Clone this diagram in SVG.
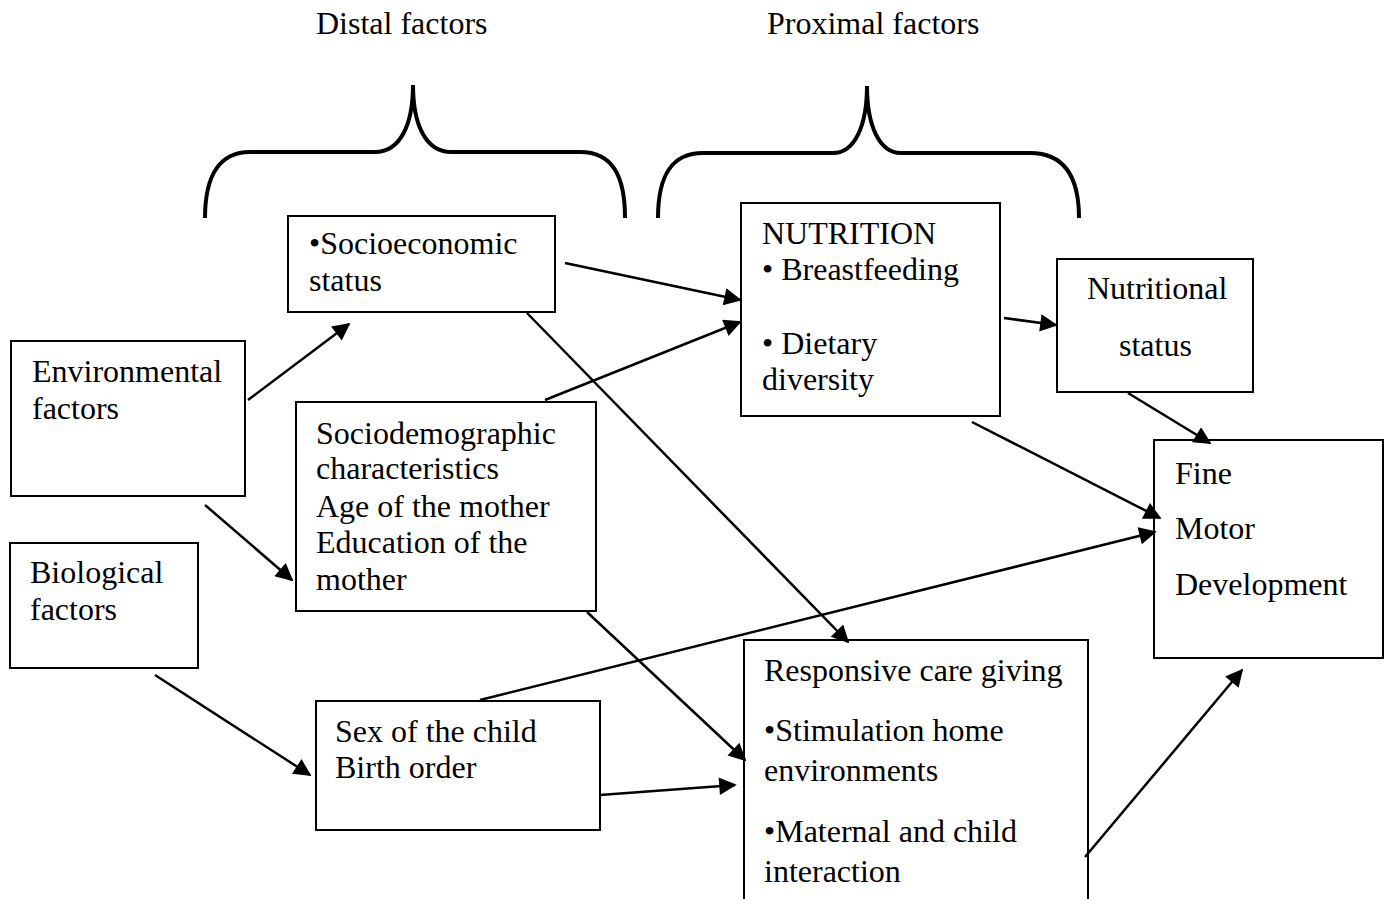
<svg xmlns="http://www.w3.org/2000/svg" width="1388" height="899" viewBox="0 0 1388 899">
<style>
text{font-family:"Liberation Serif","Times New Roman",serif;font-size:32px;fill:#000}
.box{fill:#fff;stroke:#000;stroke-width:2}
.brace{fill:none;stroke:#000;stroke-width:4}
.arr{fill:none;stroke:#000;stroke-width:2.5;marker-end:url(#ah)}
</style>
<defs>
<marker id="ah" viewBox="0 0 10 10" refX="9" refY="5" markerWidth="7.5" markerHeight="7" markerUnits="strokeWidth" orient="auto">
<path d="M0,0 L10,5 L0,10 z" fill="#000"/>
</marker>
</defs>
<rect width="1388" height="899" fill="#fff"/>
<g id="labels">
<text x="316" y="34">Distal factors</text>
<text x="767" y="34">Proximal factors</text>
</g>
<g id="braces">
<path class="brace" d="M205,218 C205,175 220,152 250,152 L375,152 C400,152 413,125 413,85 C413,125 426,152 451,152 L580,152 C612,152 625,175 625,218"/>
<path class="brace" d="M658,218 C658,175 672,153 703,153 L833,153 C855,153 867,125 867,86 C867,125 879,153 901,153 L1030,153 C1063,153 1079,175 1079,218"/>
</g>
<g id="socioeconomic">
<rect class="box" x="288" y="216" width="267" height="96"/>
<text x="309" y="254">•Socioeconomic</text>
<text x="309" y="291">status</text>
</g>
<g id="nutrition">
<rect class="box" x="741" y="203" width="259" height="213"/>
<text x="762" y="244">NUTRITION</text>
<text x="762" y="280">• Breastfeeding</text>
<text x="762" y="354">• Dietary</text>
<text x="762" y="390">diversity</text>
</g>
<g id="nutritional-status">
<rect class="box" x="1057" y="259" width="196" height="133"/>
<text x="1087" y="299">Nutritional</text>
<text x="1119" y="356">status</text>
</g>
<g id="environmental">
<rect class="box" x="11" y="341" width="234" height="155"/>
<text x="32" y="382">Environmental</text>
<text x="32" y="419">factors</text>
</g>
<g id="sociodemographic">
<rect class="box" x="296" y="402" width="300" height="209"/>
<text x="316" y="444">Sociodemographic</text>
<text x="316" y="479">characteristics</text>
<text x="316" y="517">Age of the mother</text>
<text x="316" y="553">Education of the</text>
<text x="316" y="590">mother</text>
</g>
<g id="fine-motor">
<rect class="box" x="1154" y="440" width="229" height="218"/>
<text x="1175" y="484">Fine</text>
<text x="1175" y="539">Motor</text>
<text x="1175" y="595">Development</text>
</g>
<g id="biological">
<rect class="box" x="10" y="543" width="188" height="125"/>
<text x="30" y="583">Biological</text>
<text x="30" y="620">factors</text>
</g>
<g id="sex-child">
<rect class="box" x="316" y="701" width="284" height="129"/>
<text x="335" y="742">Sex of the child</text>
<text x="335" y="778">Birth order</text>
</g>
<g id="responsive">
<rect class="box" x="744" y="640" width="344" height="280"/>
<text x="764" y="681">Responsive care giving</text>
<text x="764" y="741">•Stimulation home</text>
<text x="764" y="781">environments</text>
<text x="764" y="842">•Maternal and child</text>
<text x="764" y="882">interaction</text>
</g>
<g id="connectors">
<line class="arr" x1="248" y1="400" x2="349" y2="324"/>
<line class="arr" x1="565" y1="263" x2="740" y2="300"/>
<line class="arr" x1="545" y1="400" x2="740" y2="322"/>
<line class="arr" x1="1004" y1="318" x2="1056" y2="325"/>
<line class="arr" x1="1128" y1="393" x2="1210" y2="443"/>
<line class="arr" x1="972" y1="422" x2="1160" y2="518"/>
<line class="arr" x1="527" y1="313" x2="848" y2="642"/>
<line class="arr" x1="205" y1="505" x2="292" y2="580"/>
<line class="arr" x1="480" y1="700" x2="1155" y2="532"/>
<line class="arr" x1="587" y1="612" x2="745" y2="760"/>
<line class="arr" x1="155" y1="675" x2="310" y2="775"/>
<line class="arr" x1="600" y1="795" x2="735" y2="785"/>
<line class="arr" x1="1085" y1="857" x2="1242" y2="670"/>
</g>
</svg>
